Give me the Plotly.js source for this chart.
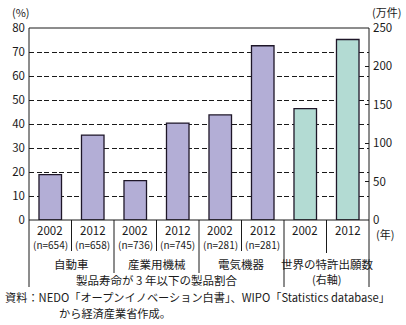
<!DOCTYPE html>
<html>
<head>
<meta charset="utf-8">
<script src="https://cdn.plot.ly/plotly-3.0.1.min.js"></script>
<style>html,body{margin:0;padding:0;background:#fff;}#chart{width:406px;height:325px;}</style>
</head>
<body>
<div id="chart"></div>
<script>
// ---- data ----
const years = ['2002', '2012', '2002', '2012', '2002', '2012', '2002', '2012'];
const sampleSizes = ['(n=654)', '(n=658)', '(n=736)', '(n=745)', '(n=281)', '(n=281)'];
const groupNames = ['自動車', '産業用機械', '電気機器', '世界の特許出願数'];
const shareValues = [18.9, 35.4, 16.4, 40.4, 43.8, 72.6];   // % (left axis)
const patentValues = [145, 235];                            // 万件 (right axis)
const leftTicks = [0, 10, 20, 30, 40, 50, 60, 70, 80];
const rightTicks = [0, 50, 100, 150, 200, 250];
const shareLabel = '製品寿命が 3 年以下の製品割合';
const rightAxisNote = '(右軸)';
const sourceLine1 = '資料：NEDO「オープンイノベーション白書」、WIPO「Statistics database」';
const sourceLine2 = 'から経済産業省作成。';

// ---- geometry helpers ----
const W = 406, H = 325;
const M = {l: 29, r: 37, t: 28, b: 105};
const PW = W - M.l - M.r, PH = H - M.t - M.b;
const py = p => (H - M.b - p) / PH;          // pixel y -> paper y
const pxp = p => (p - M.l) / PW;             // pixel x -> paper x
const nCat = years.length;
const bx = i => i / nCat;                    // boundary before category i, paper x

const FONT = '"Noto Sans CJK JP", "Noto Sans", sans-serif';
const TXT = '#1a1a1a';
const LINE = '#1a1a1a';
const f = s => ({family: FONT, size: s, color: TXT});

const shareX = shareValues.map((_, i) => i);
const patentX = patentValues.map((_, i) => shareValues.length + i);

const traces = [
  {type: 'bar', x: shareX, y: shareValues, yaxis: 'y', width: 0.53,
   marker: {color: '#b3aed6', line: {color: '#1e1628', width: 1.3}}, hoverinfo: 'none'},
  {type: 'bar', x: patentX, y: patentValues, yaxis: 'y2', width: 0.53,
   marker: {color: '#b3dbd3', line: {color: '#1e1628', width: 1.3}}, hoverinfo: 'none'}
];

const shapes = [];
const vline = (xp, y0, y1) => shapes.push({type: 'line', xref: 'paper', yref: 'paper',
  x0: xp, x1: xp, y0: py(y0), y1: py(y1), line: {color: LINE, width: 1}});
// frame
shapes.push({type: 'rect', xref: 'paper', yref: 'paper', x0: 0, x1: 1, y0: 0, y1: 1,
  line: {color: LINE, width: 1}, layer: 'above'});
// table lines
vline(bx(0), 220, 287);
vline(bx(8), 220, 287);
vline(bx(6), 220, 287);
[1, 3, 5].forEach(i => vline(bx(i), 220, 251));
vline(bx(7), 220, 253);
[2, 4].forEach(i => vline(bx(i), 220, 273));

const annotations = [];
const ann = (x, xref, y, text, size, opts = {}) => annotations.push(Object.assign({
  x, xref, y: py(y), yref: 'paper', text, showarrow: false,
  xanchor: 'center', yanchor: 'middle', font: f(size)
}, opts));

years.forEach((yr, i) => ann(i, 'x', 230, yr, 11.5));
sampleSizes.forEach((s, i) => ann(i, 'x', 244, s, 10));
groupNames.forEach((g, k) => ann(2 * k + 0.5, 'x', 264, g, 11.5));
ann(2.5, 'x', 280, shareLabel, 11.5);
ann(6.5, 'x', 279, rightAxisNote, 11);
ann(pxp(21), 'paper', 12, '(%)', 11);
ann(pxp(386), 'paper', 12, '(万件)', 11);
ann(pxp(374), 'paper', 234, '(年)', 11, {xanchor: 'left'});
ann(pxp(3), 'paper', 297, sourceLine1, 11.2, {xanchor: 'left'});
ann(pxp(57), 'paper', 313, sourceLine2, 11.2, {xanchor: 'left'});

const layout = {
  width: W, height: H, margin: M,
  paper_bgcolor: '#fff', plot_bgcolor: '#fff',
  showlegend: false, barmode: 'overlay',
  font: f(11.5),
  xaxis: {range: [-0.5, 7.5], showticklabels: false, ticks: '', showgrid: false, zeroline: false,
          showline: false, fixedrange: true},
  yaxis: {range: [0, 80], tickvals: leftTicks, ticks: '', showline: false, zeroline: false,
          showgrid: true, gridcolor: '#1a1a1a', gridwidth: 1, griddash: '5px,2.5px',
          tickfont: f(11.5), ticklabelstandoff: 3},
  yaxis2: {range: [0, 250], tickvals: rightTicks, overlaying: 'y', side: 'right',
           ticks: 'inside', ticklen: 4, tickcolor: LINE, tickwidth: 1, showgrid: false,
           zeroline: false, showline: false,
           tickfont: f(11.5), ticklabelstandoff: 3},
  shapes, annotations
};

Plotly.newPlot('chart', traces, layout, {staticPlot: true, displayModeBar: false});
</script>
</body>
</html>
